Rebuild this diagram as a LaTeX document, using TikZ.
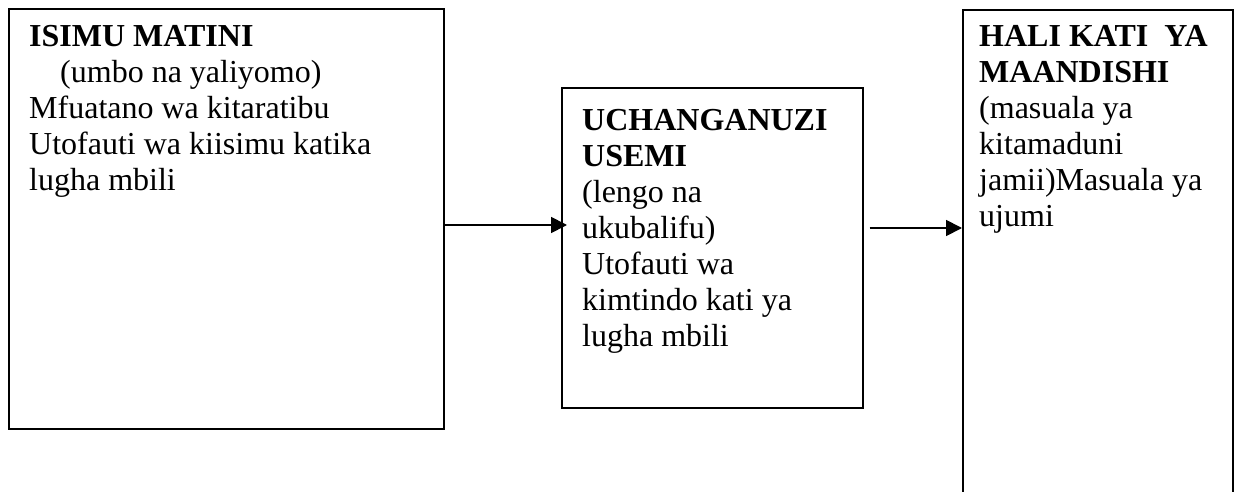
\documentclass[tikz,border=0pt]{standalone}
\usepackage{fontspec}
\setmainfont{Liberation Serif}
\usetikzlibrary{arrows.meta}
\begin{document}
\begin{tikzpicture}[x=1pt,y=-1pt,
  box/.style={draw, line width=1.6pt, rectangle, inner sep=0pt, anchor=north west},
  txt/.style={anchor=north west, inner sep=0pt, align=left,
    font=\fontsize{32}{36}\selectfont},
  arr/.style={line width=1.8pt, -{Triangle[length=16pt,width=16pt]}}]
  \path[use as bounding box, clip] (0,0) rectangle (1239,492);
  % boxes
  \node[box, minimum width=435pt, minimum height=420pt] (b1) at (8,8) {};
  \node[box, minimum width=301pt, minimum height=320pt] (b2) at (561,87) {};
  \node[box, minimum width=270pt, minimum height=520pt] (b3) at (962,9) {};
  % texts
  \node[txt] (t1) at (29,21) {\strut\textbf{ISIMU MATINI}\\
    \hspace*{31pt}(umbo na yaliyomo)\\
    Mfuatano wa kitaratibu\\
    Utofauti wa kiisimu katika\\
    lugha mbili};
  \node[txt] (t2) at (582,105) {\strut\textbf{UCHANGANUZI}\\
    \textbf{USEMI}\\
    (lengo na\\
    ukubalifu)\\
    Utofauti wa\\
    kimtindo kati ya\\
    lugha mbili};
  \node[txt] (t3) at (979,21) {\strut\textbf{HALI KATI\ \ YA}\\
    \textbf{MAANDISHI}\\
    (masuala ya\\
    kitamaduni\\
    jamii)Masuala ya\\
    ujumi};
  % connectors
  \draw[arr] (b1.east |- 0,225) -- ([xshift=6pt]b2.west |- 0,225);
  \draw[arr] ([xshift=6pt]b2.east |- 0,228) -- (b3.west |- 0,228);
\end{tikzpicture}
\end{document}
